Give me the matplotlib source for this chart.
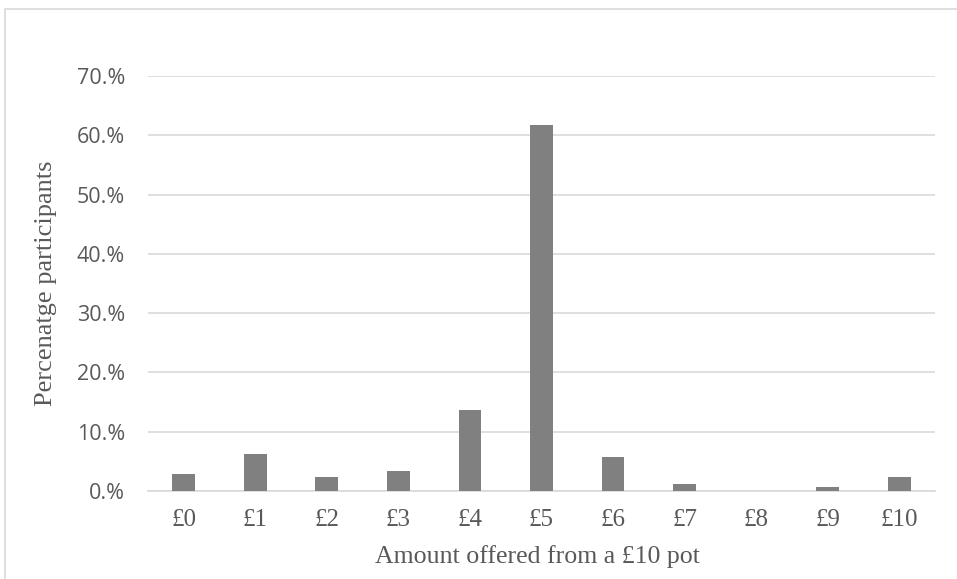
import matplotlib.pyplot as plt
from matplotlib.patches import Rectangle
from matplotlib.ticker import FuncFormatter

categories = ["£0", "£1", "£2", "£3", "£4", "£5", "£6", "£7", "£8", "£9", "£10"]
percent_values = [2.9, 6.2, 2.3, 3.4, 13.7, 61.7, 5.7, 1.1, 0.0, 0.6, 2.3]
y_ticks = [0, 10, 20, 30, 40, 50, 60, 70]

W, H = 957, 579
fig = plt.figure(figsize=(W / 100, H / 100), dpi=100)

# outer chart frame (cut off at right and bottom like the source)
fig.patches.append(Rectangle((5 / W, -1), 2, 2 - 9 / H, transform=fig.transFigure,
                             facecolor="none", edgecolor="#d9d9d9", linewidth=1.2))

ax = fig.add_axes([148 / W, (H - 491) / H, (935 - 148) / W, (491 - 76) / H])
positions = range(len(categories))
ax.bar(positions, percent_values, width=0.32, color="#808080", zorder=3)

ax.set_xlim(-0.5, len(categories) - 0.5)
ax.set_ylim(0, 70)
ax.set_yticks(y_ticks)
ax.yaxis.set_major_formatter(FuncFormatter(lambda v, _: f"{int(v)}.%"))
ax.set_xticks(list(positions))
ax.set_xticklabels(categories, family="Liberation Serif", fontsize=18, color="#595959")
for lbl in ax.get_yticklabels():
    lbl.set_family("Open Sans")
    lbl.set_fontsize(15.5)
    lbl.set_color("#595959")

ax.grid(axis="y", color="#d9d9d9", linewidth=1.2, zorder=0)
for side in ["top", "right", "left"]:
    ax.spines[side].set_visible(False)
ax.spines["bottom"].set_color("#d9d9d9")
ax.spines["bottom"].set_linewidth(1.2)
ax.tick_params(axis="both", length=0)
ax.tick_params(axis="x", pad=13)
ax.tick_params(axis="y", pad=16.5)

fig.text(537 / W, 1 - 557 / H, "Amount offered from a £10 pot", ha="center", va="center",
         family="Liberation Serif", fontsize=18.6, color="#595959")
fig.text(46 / W, 1 - 283 / H, "Percenatge participants", ha="center", va="center",
         rotation=90, family="Liberation Serif", fontsize=19, color="#595959")

fig.savefig("out.png", dpi=100)
